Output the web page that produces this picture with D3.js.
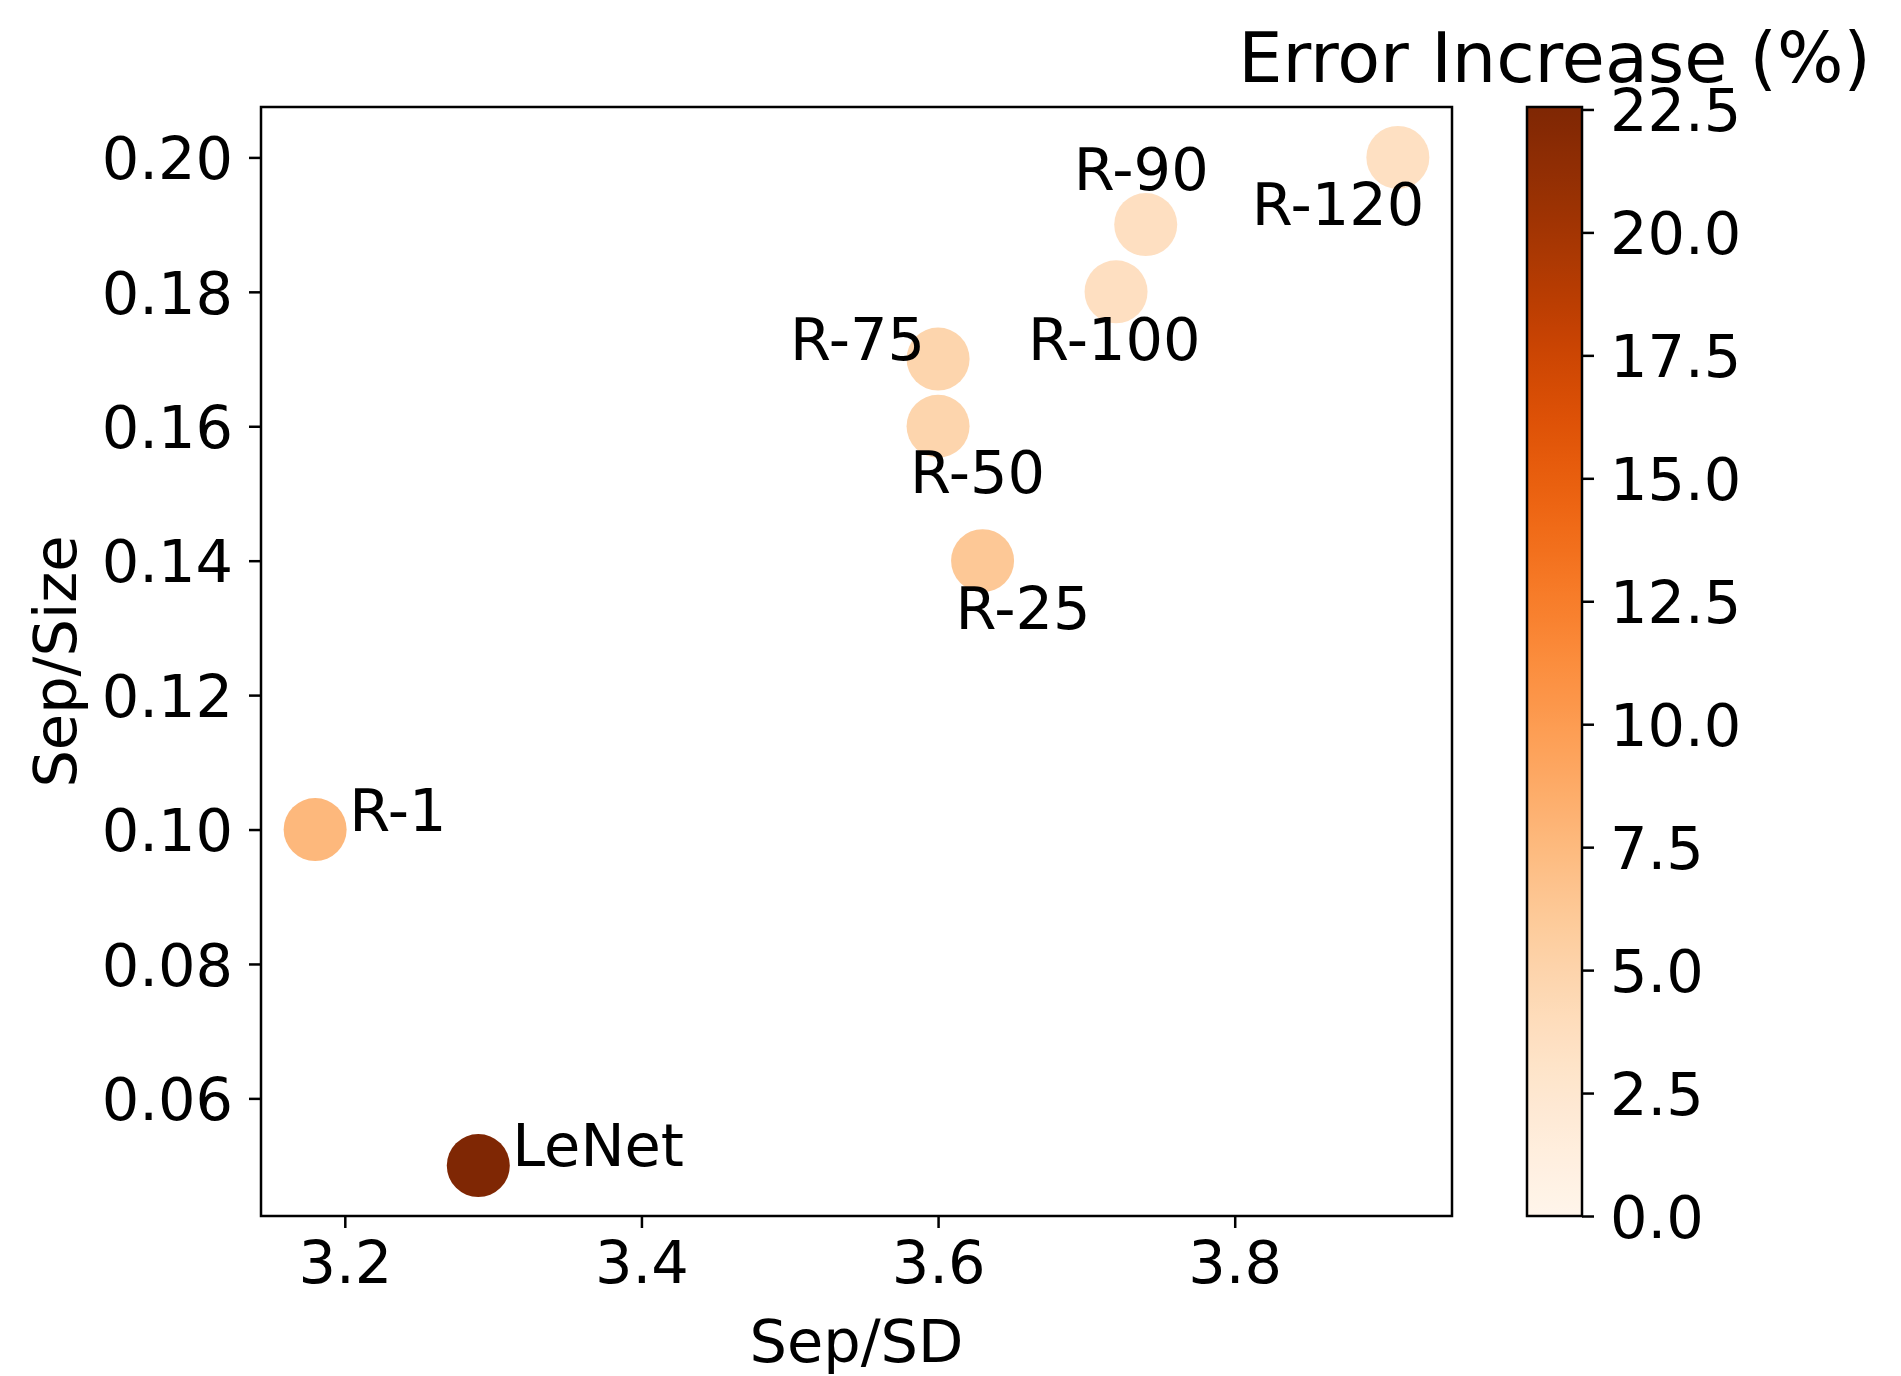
<!DOCTYPE html>
<html>
<head>
<meta charset="utf-8">
<script src="https://cdn.jsdelivr.net/npm/d3@7"></script>
<style>
	body { margin: 0; background: white; }
	svg { display: block; font-family: "DejaVu Sans", sans-serif; }
</style>
</head>
<body>
<div id="chart"></div>
<script>
// données
const names = ["LeNet", "R-1", "R-25", "R-50", "R-75", "R-100", "R-90", "R-120"];
const sepSD = [3.29, 3.18, 3.63, 3.60, 3.60, 3.72, 3.74, 3.91];
const sepSize = [0.05, 0.10, 0.14, 0.16, 0.17, 0.18, 0.19, 0.20];
const errInc = [22.55, 7.6, 6.2, 4.9, 4.9, 3.6, 3.6, 3.5];
const xTicks = [3.2, 3.4, 3.6, 3.8];
const yTicks = [0.06, 0.08, 0.10, 0.12, 0.14, 0.16, 0.18, 0.20];
const cTicks = [0, 2.5, 5, 7.5, 10, 12.5, 15, 17.5, 20, 22.5];
// décalage des étiquettes (px) par rapport au point
const labelOffsets = [[34, 0], [34, 1], [-27, 68], [-28, 67], [-148, 1], [-88, 68], [-72, -35], [-146, 68]];

const W = 1901, H = 1376;
const fs = 59;
const plot = {left: 261, right: 1452, top: 107, bottom: 1216};
const cbar = {left: 1527, right: 1582, top: 107, bottom: 1216};

const svg = d3.select("#chart").append("svg")
	.attr("width", W)
	.attr("height", H);

const xpad = (d3.max(sepSD) - d3.min(sepSD)) * 0.05;
const ypad = (d3.max(sepSize) - d3.min(sepSize)) * 0.05;
const x = d3.scaleLinear([d3.min(sepSD) - xpad, d3.max(sepSD) + xpad], [plot.left, plot.right]);
const y = d3.scaleLinear([d3.min(sepSize) - ypad, d3.max(sepSize) + ypad], [plot.bottom, plot.top]);
const cmax = d3.max(errInc);
const color = d3.scaleSequential(d3.interpolateOranges).domain([0, cmax]);

const data = names.map((n, i) => ({name: n, x: sepSD[i], y: sepSize[i], v: errInc[i], off: labelOffsets[i]}));

// points
svg.append("g")
	.selectAll("circle")
	.data(data)
	.join("circle")
	.attr("cx", d => x(d.x))
	.attr("cy", d => y(d.y))
	.attr("r", 31.5)
	.attr("fill", d => color(d.v));

// étiquettes
svg.append("g")
	.attr("font-size", fs)
	.selectAll("text")
	.data(data)
	.join("text")
	.attr("x", d => x(d.x) + d.off[0])
	.attr("y", d => y(d.y) + d.off[1])
	.text(d => d.name);

// axes
const styleAxis = g => {
	g.select(".domain").remove();
	g.selectAll(".tick line").attr("stroke", "black").attr("stroke-width", 2.5);
	g.selectAll(".tick text").attr("font-size", fs).attr("fill", "black").attr("font-family", "DejaVu Sans");
};
svg.append("g")
	.attr("transform", `translate(0,${plot.bottom})`)
	.call(d3.axisBottom(x).tickValues(xTicks).tickFormat(d3.format(".1f")).tickSize(12).tickPadding(13))
	.call(styleAxis)
	.call(g => g.selectAll(".tick text").attr("dy", "0.72em"));
svg.append("g")
	.attr("transform", `translate(${plot.left},0)`)
	.call(d3.axisLeft(y).tickValues(yTicks).tickFormat(d3.format(".2f")).tickSize(12).tickPadding(16))
	.call(styleAxis)
	.call(g => g.selectAll(".tick text").attr("dy", "0.36em"));

svg.append("rect")
	.attr("x", plot.left).attr("y", plot.top)
	.attr("width", plot.right - plot.left).attr("height", plot.bottom - plot.top)
	.attr("fill", "none").attr("stroke", "black").attr("stroke-width", 2.5);

svg.append("text")
	.attr("x", (plot.left + plot.right) / 2)
	.attr("y", 1362)
	.attr("text-anchor", "middle")
	.attr("font-size", fs)
	.text("Sep/SD");
svg.append("text")
	.attr("transform", `translate(76,${(plot.top + plot.bottom) / 2}) rotate(-90)`)
	.attr("text-anchor", "middle")
	.attr("font-size", fs)
	.text("Sep/Size");

// barre de couleur
const cy = d3.scaleLinear([0, cmax], [cbar.bottom, cbar.top]);
const grad = svg.append("defs").append("linearGradient")
	.attr("id", "grad")
	.attr("x1", 0).attr("y1", 1).attr("x2", 0).attr("y2", 0);
grad.selectAll("stop")
	.data(d3.range(0, 1.0001, 0.02))
	.join("stop")
	.attr("offset", t => t)
	.attr("stop-color", t => color(t * cmax));
svg.append("rect")
	.attr("x", cbar.left).attr("y", cbar.top)
	.attr("width", cbar.right - cbar.left).attr("height", cbar.bottom - cbar.top)
	.attr("fill", "url(#grad)")
	.attr("stroke", "black").attr("stroke-width", 2.5);
svg.append("g")
	.attr("transform", `translate(${cbar.right},0)`)
	.call(d3.axisRight(cy).tickValues(cTicks).tickFormat(d3.format(".1f")).tickSize(12).tickPadding(16))
	.call(styleAxis)
	.call(g => g.selectAll(".tick text").attr("dy", "0.36em"));

svg.append("text")
	.attr("x", (cbar.left + cbar.right) / 2)
	.attr("y", 82)
	.attr("text-anchor", "middle")
	.attr("font-size", 70)
	.text("Error Increase (%)");
</script>
</body>
</html>
